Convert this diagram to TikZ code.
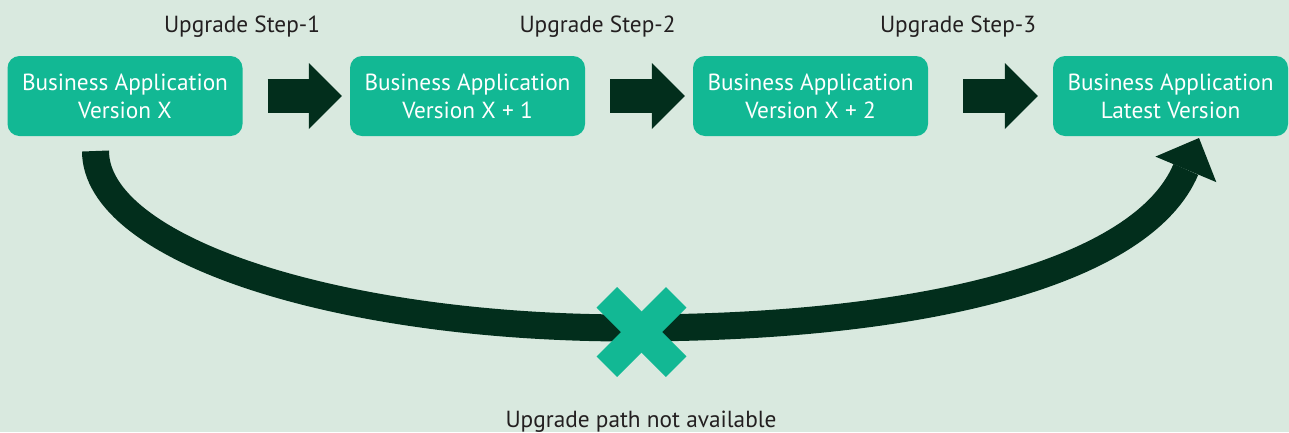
\documentclass[tikz,border=0pt]{standalone}
\usepackage{fontspec}
\setmainfont{PT Sans}
\usetikzlibrary{arrows.meta,calc}
\definecolor{bgc}{HTML}{D9E9DF}
\definecolor{boxc}{HTML}{12B894}
\definecolor{darkc}{HTML}{022E1C}
\definecolor{txtc}{HTML}{231F20}
\begin{document}
\begin{tikzpicture}[x=1pt,y=-1pt,
  appbox/.style={fill=boxc, rounded corners=12pt, minimum width=235pt, minimum height=80pt, inner sep=0pt, text=white, align=center, font=\fontsize{23.3}{28}\selectfont},
  steplabel/.style={text=txtc, anchor=base, inner sep=0pt, font=\fontsize{23.3}{28}\selectfont},
  blockarrow/.style={draw=darkc, line width=34pt, -{Triangle[length=33pt,width=66pt,line width=0pt]}},
  bigarrow/.style={draw=darkc, line width=27pt, -{Triangle[length=34pt,width=66pt,line width=0pt]}},
  crossbar/.style={fill=boxc, minimum width=98pt, minimum height=29pt, inner sep=0pt},
  ]
\fill[bgc] (0,0) rectangle (1289,432);
\useasboundingbox (0,0) rectangle (1289,432);

\node[appbox] (b1) at (125,96) {Business Application\\Version X};
\node[appbox] (b2) at (467.5,96) {Business Application\\Version X + 1};
\node[appbox] (b3) at (810.5,96) {Business Application\\Version X + 2};
\node[appbox] (b4) at (1170.5,96) {Business Application\\Latest Version};

\node[steplabel] (s1) at (242,32) {Upgrade Step-1};
\node[steplabel] (s2) at (597.5,32) {Upgrade Step-2};
\node[steplabel] (s3) at (958,32) {Upgrade Step-3};

\draw[blockarrow] ($(b1.east)+(25,0)$) -- ($(b2.west)+(-8,0)$);
\draw[blockarrow] ($(b2.east)+(25,0)$) -- ($(b3.west)+(-8,0)$);
\draw[blockarrow] ($(b3.east)+(35,0)$) -- ($(b4.west)+(-15,0)$);

\coordinate (cs) at (95.5,151);
\coordinate (cm) at (630,328);
\coordinate (ce) at (1199,138);
\draw[bigarrow] (cs) .. controls (95.5,248.7) and (334.7,328) .. (cm)
  .. controls (930,328) and (1143.3,270.8) .. (ce);

\node[crossbar, rotate=45] (x1) at (641.5,332) {};
\node[crossbar, rotate=-45] (x2) at (641.5,332) {};

\node[steplabel] (nolabel) at (641,427) {Upgrade path not available};
\end{tikzpicture}
\end{document}
